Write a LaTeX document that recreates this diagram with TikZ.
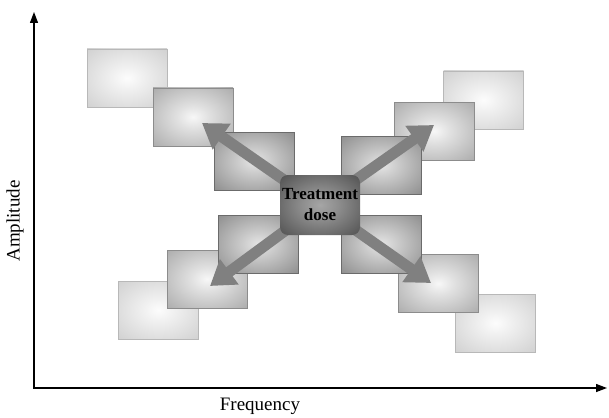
\documentclass[tikz,border=0pt]{standalone}
\usepackage{fontspec}
\setmainfont{Liberation Serif}
\usetikzlibrary{arrows.meta}
\pgfdeclareradialshading{lightsh}{\pgfpoint{0bp}{0bp}}{color(0bp)=(black!1); color(10bp)=(black!6); color(50bp)=(black!25)}
\pgfdeclareradialshading{midsh}{\pgfpoint{0bp}{0bp}}{color(0bp)=(black!3); color(10bp)=(black!12); color(50bp)=(black!44)}
\pgfdeclareradialshading{darksh}{\pgfpoint{0bp}{0bp}}{color(0bp)=(black!10); color(10bp)=(black!20); color(50bp)=(black!58)}
\pgfdeclareradialshading{centersh}{\pgfpoint{0bp}{0bp}}{color(0bp)=(black!35); color(12bp)=(black!45); color(50bp)=(black!82)}
\tikzset{
  tile/.style={rectangle, minimum width=80pt, minimum height=58pt, inner sep=0pt, shade},
  lighttile/.style={tile, shading=lightsh, draw=black!28, line width=0.6pt},
  midtile/.style={tile, shading=midsh, draw=black!45, line width=0.6pt},
  darktile/.style={tile, shading=darksh, draw=black!58, line width=0.6pt},
  bigarrow/.style={draw=black!50, line width=11pt, -{Triangle[length=24pt,width=30pt]}},
  axisline/.style={line width=1.3pt, {Triangle[length=11pt,width=8pt]}-{Triangle[length=11pt,width=8pt]}},
  axislabel/.style={font=\fontsize{19}{21}\selectfont, inner sep=0pt},
  dosebox/.style={rectangle, rounded corners=8pt, minimum width=80pt, minimum height=60pt, shade, shading=centersh, align=center, font=\bfseries\fontsize{17}{21}\selectfont, inner sep=0pt}
}
\begin{document}
\begin{tikzpicture}[x=1pt,y=-1pt]
\useasboundingbox (0,0) rectangle (609,417);
% axes
\coordinate (ytop) at (34,12);
\coordinate (orig) at (34,388);
\coordinate (xend) at (607,388);
\draw[axisline] (ytop) -- (orig) -- (xend);
\node[axislabel, rotate=90] (amp) at (15,221) {Amplitude};
\node[axislabel] (freq) at (260,406) {Frequency};
% light tiles
\node[lighttile] (r1) at (127,78) {};
\node[lighttile] (r6) at (483.5,100) {};
\node[lighttile] (r9) at (158.5,310) {};
\node[lighttile] (r12) at (495.5,323) {};
% medium tiles
\node[midtile] (r2) at (193,117) {};
\node[midtile] (r5) at (434,131) {};
\node[midtile] (r8) at (207,279) {};
\node[midtile] (r11) at (438.5,283.5) {};
% dark tiles
\node[darktile] (r3) at (254,161) {};
\node[darktile] (r4) at (381,165) {};
\node[darktile] (r7) at (258.5,244) {};
\node[darktile] (r10) at (381,244) {};
% arrow tips
\coordinate (t1) at (202,123);
\coordinate (t2) at (434,125);
\coordinate (t3) at (210,286);
\coordinate (t4) at (431,283);
\coordinate (cc) at (320,205);
\draw[bigarrow] (cc) -- (t1);
\draw[bigarrow] (cc) -- (t2);
\draw[bigarrow] (cc) -- (t3);
\draw[bigarrow] (cc) -- (t4);
% center
\node[dosebox] (dose) at (320,205) {Treatment\\dose};
\end{tikzpicture}
\end{document}
